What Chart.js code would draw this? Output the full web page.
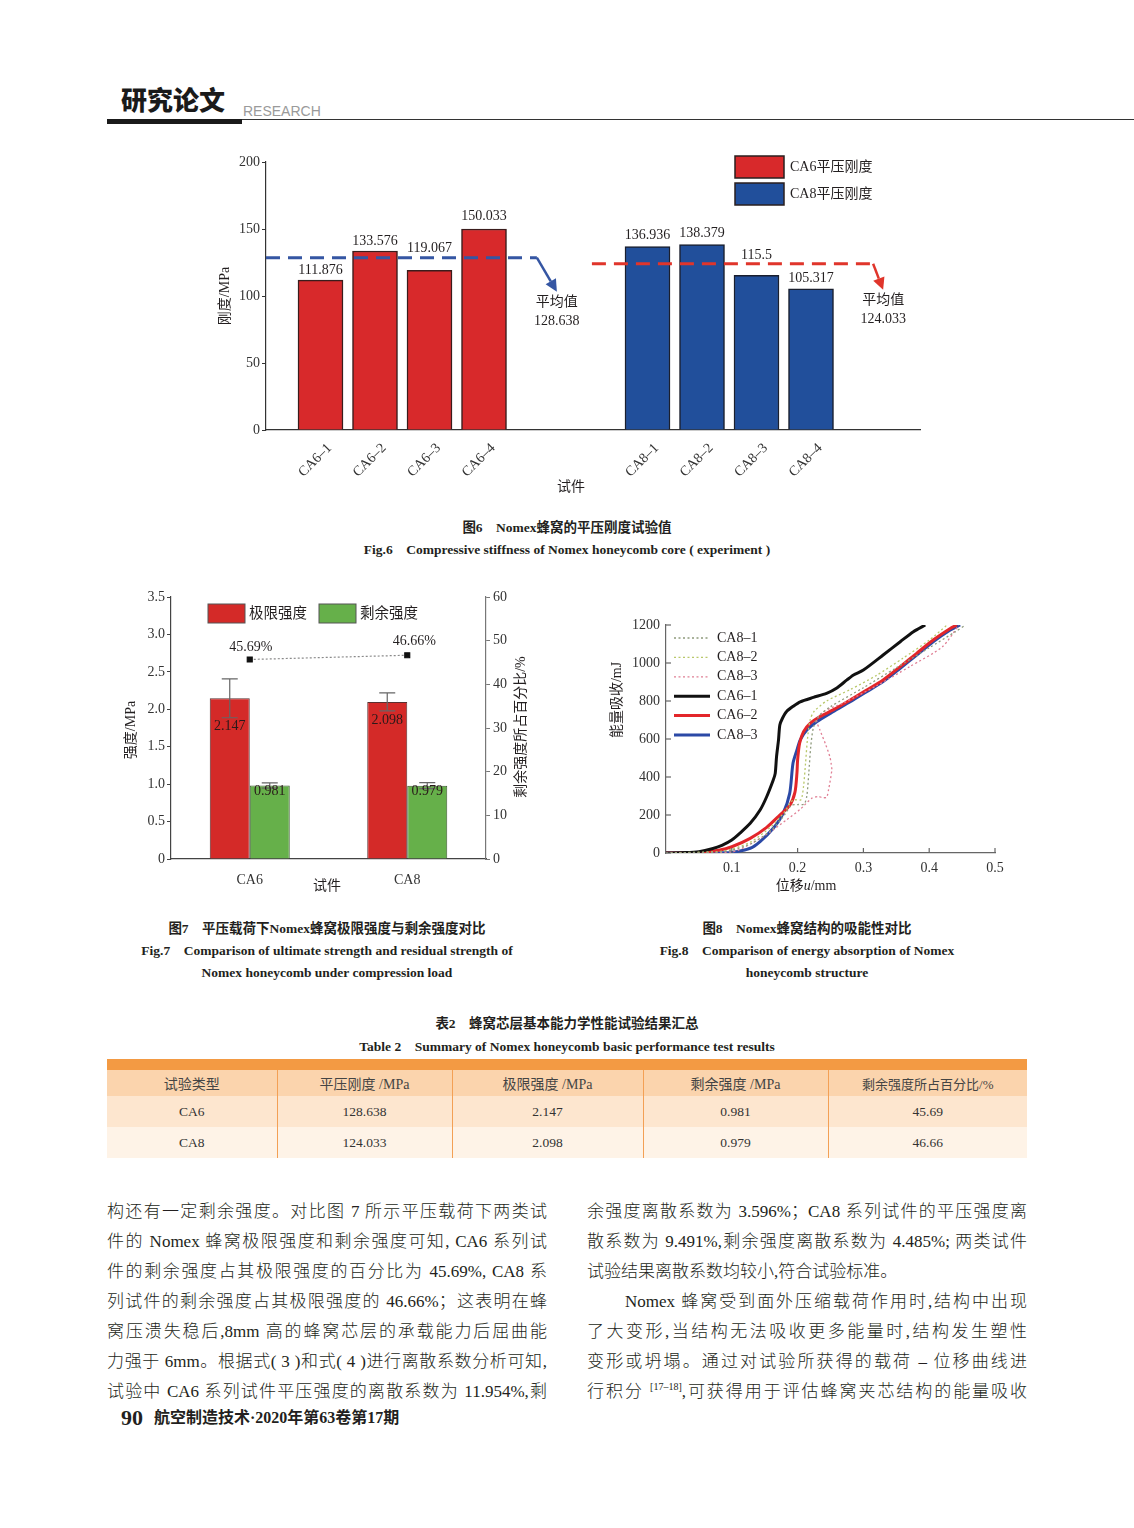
<!DOCTYPE html>
<html lang="zh-CN">
<head>
<meta charset="utf-8">
<script src="https://cdn.jsdelivr.net/npm/chart.js@4.4.1/dist/chart.umd.min.js"></script>
<style>
body{margin:0;background:#fff;}
#page{position:relative;width:1134px;height:1528px;overflow:hidden;background:#fff;font-family:'Liberation Serif','Noto Sans CJK SC',serif;color:#231f20;}
.abs{position:absolute;}
canvas{position:absolute;}
.cap{position:absolute;text-align:center;font-weight:bold;font-size:13.5px;line-height:18px;white-space:nowrap;}
.cn{font-family:'Liberation Serif','Noto Sans CJK SC',sans-serif;}
.ln{position:absolute;width:440px;height:30px;line-height:30px;font-size:17px;font-weight:300;text-align:justify;text-align-last:justify;color:#231f20;}
.ln.last{text-align-last:left;}
table{border-collapse:collapse;table-layout:fixed;}
td{text-align:center;padding:0;}
</style>
</head>
<body>
<div id="page">
  <!-- header -->
  <div class="abs" style="left:121px;top:83px;font-family:'Noto Sans CJK SC',sans-serif;font-weight:900;font-size:26px;line-height:32px;color:#1a1a1a;">研究论文</div>
  <div class="abs" style="left:243px;top:103px;font-family:'Liberation Sans',sans-serif;font-size:14px;line-height:16px;color:#9a9a9a;">RESEARCH</div>
  <div class="abs" style="left:107px;top:119px;width:135px;height:5px;background:#1a1a1a;"></div>
  <div class="abs" style="left:242px;top:119px;width:892px;height:1px;background:#333;"></div>

  <canvas id="fig6" width="740" height="365" style="left:200px;top:145px;width:740px;height:365px;"></canvas>
  <div class="cap cn" style="left:0;width:1134px;top:519px;">图6&ensp;&ensp;Nomex蜂窝的平压刚度试验值</div>
  <div class="cap" style="left:0;width:1134px;top:541px;">Fig.6&ensp;&ensp;Compressive stiffness of Nomex honeycomb core ( experiment )</div>

  <canvas id="fig7" width="430" height="315" style="left:110px;top:585px;width:430px;height:315px;"></canvas>
  <canvas id="fig8" width="420" height="290" style="left:600px;top:610px;width:420px;height:290px;"></canvas>

  <div class="cap cn" style="left:107px;width:440px;top:920px;">图7&ensp;&ensp;平压载荷下Nomex蜂窝极限强度与剩余强度对比</div>
  <div class="cap" style="left:107px;width:440px;top:942px;">Fig.7&ensp;&ensp;Comparison of ultimate strength and residual strength of</div>
  <div class="cap" style="left:107px;width:440px;top:964px;">Nomex honeycomb under compression load</div>
  <div class="cap cn" style="left:587px;width:440px;top:920px;">图8&ensp;&ensp;Nomex蜂窝结构的吸能性对比</div>
  <div class="cap" style="left:587px;width:440px;top:942px;">Fig.8&ensp;&ensp;Comparison of energy absorption of Nomex</div>
  <div class="cap" style="left:587px;width:440px;top:964px;">honeycomb structure</div>

  <div class="cap cn" style="left:0;width:1134px;top:1015px;">表2&ensp;&ensp;蜂窝芯层基本能力学性能试验结果汇总</div>
  <div class="cap" style="left:0;width:1134px;top:1038px;">Table 2&ensp;&ensp;Summary of Nomex honeycomb basic performance test results</div>

  <div class="abs" style="left:107px;top:1059px;width:920px;height:11px;background:#f39a43;"></div>
  <table class="abs" style="left:107px;top:1070px;width:920px;">
    <colgroup><col style="width:170px"><col style="width:175px"><col style="width:191px"><col style="width:185px"><col style="width:199px"></colgroup>
    <tr style="height:26px;background:#fbd4ad;color:#444;font-size:14px;">
      <td style="border-right:1.5px solid #f3a055;">试验类型</td><td style="border-right:1.5px solid #f3a055;">平压刚度 /MPa</td><td style="border-right:1.5px solid #f3a055;">极限强度 /MPa</td><td style="border-right:1.5px solid #f3a055;">剩余强度 /MPa</td><td style="font-size:13px;">剩余强度所占百分比/%</td>
    </tr>
    <tr style="height:31px;background:#fde6cf;color:#333;font-size:13.5px;">
      <td style="border-right:1.5px solid #f3a055;">CA6</td><td style="border-right:1.5px solid #f3a055;">128.638</td><td style="border-right:1.5px solid #f3a055;">2.147</td><td style="border-right:1.5px solid #f3a055;">0.981</td><td>45.69</td>
    </tr>
    <tr style="height:31px;background:#fef3e7;color:#333;font-size:13.5px;">
      <td style="border-right:1.5px solid #f3a055;">CA8</td><td style="border-right:1.5px solid #f3a055;">124.033</td><td style="border-right:1.5px solid #f3a055;">2.098</td><td style="border-right:1.5px solid #f3a055;">0.979</td><td>46.66</td>
    </tr>
  </table>

  <!-- body text left column -->
  <div class="ln" style="left:107px;top:1197px;">构还有一定剩余强度。对比图 7 所示平压载荷下两类试</div>
  <div class="ln" style="left:107px;top:1227px;">件的 Nomex 蜂窝极限强度和剩余强度可知, CA6 系列试</div>
  <div class="ln" style="left:107px;top:1257px;">件的剩余强度占其极限强度的百分比为 45.69%, CA8 系</div>
  <div class="ln" style="left:107px;top:1287px;">列试件的剩余强度占其极限强度的 46.66%；这表明在蜂</div>
  <div class="ln" style="left:107px;top:1317px;">窝压溃失稳后,8mm 高的蜂窝芯层的承载能力后屈曲能</div>
  <div class="ln" style="left:107px;top:1347px;">力强于 6mm。根据式( 3 )和式( 4 )进行离散系数分析可知,</div>
  <div class="ln" style="left:107px;top:1377px;">试验中 CA6 系列试件平压强度的离散系数为 11.954%,剩</div>
  <!-- right column -->
  <div class="ln" style="left:587px;top:1197px;">余强度离散系数为 3.596%；CA8 系列试件的平压强度离</div>
  <div class="ln" style="left:587px;top:1227px;">散系数为 9.491%,剩余强度离散系数为 4.485%; 两类试件</div>
  <div class="ln last" style="left:587px;top:1257px;">试验结果离散系数均较小,符合试验标准。</div>
  <div class="ln" style="left:625px;width:402px;top:1287px;">Nomex 蜂窝受到面外压缩载荷作用时,结构中出现</div>
  <div class="ln" style="left:587px;top:1317px;">了大变形,当结构无法吸收更多能量时,结构发生塑性</div>
  <div class="ln" style="left:587px;top:1347px;">变形或坍塌。通过对试验所获得的载荷 – 位移曲线进</div>
  <div class="ln" style="left:587px;top:1377px;">行积分 <sup style="font-size:10px;line-height:0;">[17–18]</sup>,可获得用于评估蜂窝夹芯结构的能量吸收</div>

  <!-- footer -->
  <div class="abs" style="left:121px;top:1405px;font-weight:bold;font-size:22px;line-height:26px;">90</div>
  <div class="abs" style="left:154px;top:1408px;font-weight:bold;font-size:16px;line-height:20px;">航空制造技术·2020年第63卷第17期</div>
</div>

<script>
// ---------------- data ----------------
// Fig.6
const stiffCategories6 = ['CA6–1', 'CA6–2', 'CA6–3', 'CA6–4'];
const stiffValues6 = [111.876, 133.576, 119.067, 150.033];
const stiffCategories8 = ['CA8–1', 'CA8–2', 'CA8–3', 'CA8–4'];
const stiffValues8 = [136.936, 138.379, 115.5, 105.317];
const stiffAverages = [128.638, 124.033];
const stiffTicks = [0, 50, 100, 150, 200];
const stiffSeriesNames = ['CA6平压刚度', 'CA8平压刚度'];

// Fig.7
const strengthGroups = ['CA6', 'CA8'];
const ultimateStrength = [2.147, 2.098];
const ultimateError = [0.26, 0.12];
const residualStrength = [0.981, 0.979];
const residualError = [0.035, 0.04];
const residualPercent = [45.69, 46.66];
const strengthTicks = [0, 0.5, 1.0, 1.5, 2.0, 2.5, 3.0, 3.5];
const percentTicks = [0, 10, 20, 30, 40, 50, 60];

// Fig.8 (displacement mm, energy mJ)
const ca81X = [0, 0.08, 0.1, 0.13, 0.16, 0.18, 0.19, 0.2, 0.21, 0.214, 0.217, 0.22, 0.224, 0.232, 0.25, 0.3, 0.35, 0.4, 0.44, 0.455];
const ca81Y = [0, 5, 15, 50, 120, 200, 250, 255, 258, 300, 420, 560, 660, 720, 770, 870, 975, 1080, 1165, 1200];
const ca82X = [0, 0.08, 0.1, 0.13, 0.16, 0.18, 0.19, 0.195, 0.205, 0.209, 0.212, 0.215, 0.219, 0.225, 0.244, 0.28, 0.32, 0.36, 0.4, 0.427];
const ca82Y = [0, 8, 20, 60, 140, 215, 270, 280, 280, 350, 470, 600, 700, 745, 800, 860, 935, 1025, 1120, 1200];
const ca83dX = [0, 0.1, 0.13, 0.158, 0.183, 0.204, 0.221, 0.2315, 0.237, 0.244, 0.247, 0.252, 0.251, 0.249, 0.242, 0.234, 0.229, 0.24, 0.27, 0.32, 0.37, 0.42, 0.445];
const ca83dY = [0, 5, 50, 110, 174, 230, 287, 298, 292, 293, 332, 437, 470, 507, 577, 647, 700, 745, 790, 880, 980, 1085, 1200];
const ca61X = [0, 0.03, 0.05, 0.07, 0.085, 0.1, 0.112, 0.128, 0.143, 0.153, 0.163, 0.166, 0.168, 0.171, 0.173, 0.177, 0.183, 0.194, 0.204, 0.224, 0.244, 0.259, 0.275, 0.285, 0.3, 0.33, 0.356, 0.376, 0.394];
const ca61Y = [0, 2, 7, 22, 40, 68, 103, 156, 226, 296, 384, 419, 507, 595, 674, 709, 744, 774, 796, 819, 840, 867, 911, 937, 963, 1042, 1112, 1165, 1200];
const ca62X = [0, 0.05, 0.08, 0.1, 0.128, 0.153, 0.173, 0.188, 0.196, 0.199, 0.2, 0.203, 0.209, 0.219, 0.234, 0.254, 0.28, 0.305, 0.33, 0.356, 0.381, 0.406, 0.432, 0.442];
const ca62Y = [0, 3, 15, 33, 77, 135, 200, 250, 320, 420, 489, 577, 639, 682, 718, 753, 805, 858, 911, 981, 1051, 1121, 1182, 1200];
const ca83X = [0, 0.08, 0.1, 0.128, 0.143, 0.163, 0.178, 0.188, 0.193, 0.199, 0.204, 0.214, 0.229, 0.254, 0.28, 0.305, 0.33, 0.356, 0.381, 0.406, 0.432, 0.447];
const ca83Y = [0, 1, 3, 25, 60, 130, 209, 314, 472, 542, 595, 647, 691, 744, 796, 849, 902, 972, 1042, 1112, 1174, 1200];
const energyXTicks = [0.1, 0.2, 0.3, 0.4, 0.5];
const energyYTicks = [0, 200, 400, 600, 800, 1000, 1200];

// ---------------- shared ----------------
const FAM = "'Liberation Serif','Noto Sans CJK SC',serif";
Chart.defaults.font.family = FAM;
Chart.defaults.font.size = 14;
Chart.defaults.color = '#231f20';
Chart.defaults.animation = false;

function font(sz, style) { return (style ? style + ' ' : '') + sz + 'px ' + FAM; }
function rotText(ctx, txt, x, y) {
  ctx.save(); ctx.translate(x, y); ctx.rotate(-Math.PI / 2);
  ctx.textAlign = 'center'; ctx.textBaseline = 'middle'; ctx.fillText(txt, 0, 0); ctx.restore();
}

// ---------------- Fig.6 ----------------
(function () {
  const labels = ['', ...stiffCategories6, '', '', ...stiffCategories8, '', ''];
  const d6 = labels.map(() => null), d8 = labels.map(() => null);
  const start6 = 1, start8 = 1 + stiffCategories6.length + 2;
  stiffValues6.forEach((v, i) => d6[start6 + i] = v);
  stiffValues8.forEach((v, i) => d8[start8 + i] = v);
  const lift = [[10, 10, 22, 13], [11, 11, 20, 11]];
  const colors = ['#d8292b', '#214f9b'];
  const avgStyle = [
    { color: '#3556a3', from: 0, to: 4.97, dx: 20, dy: 34 },
    { color: '#e0352b', from: 5.98, to: 11.14, dx: 10, dy: 26 }
  ];

  const decor = {
    id: 'fig6decor',
    afterDatasetsDraw(chart) {
      const { ctx, scales: { x, y } } = chart;
      ctx.save();
      // value labels
      ctx.font = font(14); ctx.fillStyle = '#231f20'; ctx.textAlign = 'center'; ctx.textBaseline = 'middle';
      chart.data.datasets.forEach((ds, di) => {
        const meta = chart.getDatasetMeta(di);
        let k = 0;
        ds.data.forEach((v, i) => {
          if (v == null) return;
          ctx.fillText(String(v), meta.data[i].x, y.getPixelForValue(v) - lift[di][k]);
          k++;
        });
      });
      // average dashed lines with arrows
      stiffAverages.forEach((avg, i) => {
        const s = avgStyle[i];
        const yy = y.getPixelForValue(avg);
        const x1 = x.getPixelForValue(s.from), x2 = x.getPixelForValue(s.to);
        ctx.strokeStyle = s.color; ctx.fillStyle = s.color; ctx.lineWidth = 3;
        ctx.setLineDash([14, 8]);
        ctx.beginPath(); ctx.moveTo(x1, yy); ctx.lineTo(x2, yy); ctx.stroke();
        ctx.setLineDash([]);
        const tx = x2 + s.dx, ty = yy + s.dy;
        const ang = Math.atan2(s.dy, s.dx);
        const hl = 12, hw = 6;
        const bx = tx - hl * Math.cos(ang), by = ty - hl * Math.sin(ang);
        ctx.lineWidth = 2.5;
        ctx.beginPath(); ctx.moveTo(x2, yy); ctx.lineTo(bx, by); ctx.stroke();
        ctx.beginPath();
        ctx.moveTo(tx, ty);
        ctx.lineTo(bx + hw * Math.sin(ang), by - hw * Math.cos(ang));
        ctx.lineTo(bx - hw * Math.sin(ang), by + hw * Math.cos(ang));
        ctx.closePath(); ctx.fill();
        ctx.fillStyle = '#231f20'; ctx.font = font(14); ctx.textAlign = 'center'; ctx.textBaseline = 'middle';
        ctx.fillText('平均值', tx, ty + 11);
        ctx.fillText(String(avg), tx, ty + 30);
      });
      // legend
      stiffSeriesNames.forEach((name, i) => {
        const bx = 535, by = 11 + i * 27;
        ctx.fillStyle = colors[i]; ctx.fillRect(bx, by, 49, 22);
        ctx.strokeStyle = '#2a1f1f'; ctx.lineWidth = 1.5; ctx.strokeRect(bx, by, 49, 22);
        ctx.fillStyle = '#231f20'; ctx.font = font(14); ctx.textAlign = 'left'; ctx.textBaseline = 'middle';
        ctx.fillText(name, bx + 55, by + 11);
      });
      // axis titles
      ctx.fillStyle = '#231f20'; ctx.font = font(14);
      rotText(ctx, '刚度/MPa', 25, 151);
      ctx.textAlign = 'center'; ctx.textBaseline = 'middle';
      ctx.fillText('试件', 371, 342);
      ctx.restore();
    }
  };

  new Chart(document.getElementById('fig6'), {
    type: 'bar',
    data: {
      labels,
      datasets: [
        { label: stiffSeriesNames[0], data: d6, backgroundColor: colors[0], borderColor: '#3a1c1c', borderWidth: 1.5, barThickness: 45, grouped: false },
        { label: stiffSeriesNames[1], data: d8, backgroundColor: colors[1], borderColor: '#1a1f2e', borderWidth: 1.5, barThickness: 45, grouped: false }
      ]
    },
    options: {
      responsive: false, animation: false,
      layout: { padding: { top: 17, right: 20, left: 0, bottom: 0 } },
      plugins: { legend: { display: false }, tooltip: { enabled: false } },
      scales: {
        x: {
          offset: false,
          grid: { display: false },
          border: { display: true, color: '#333', width: 1.2 },
          ticks: { autoSkip: false, maxRotation: 45, minRotation: 45, labelOffset: 9, padding: 2, font: { size: 14 }, color: '#333' },
          afterFit: s => { s.height = 80; }
        },
        y: {
          min: 0, max: 200,
          afterBuildTicks: s => { s.ticks = stiffTicks.map(v => ({ value: v })); },
          grid: { drawOnChartArea: false, drawTicks: true, tickLength: 4, color: '#333' },
          border: { color: '#333', width: 1.2 },
          ticks: { padding: 2, font: { size: 14 }, color: '#333' },
          afterFit: s => { s.width = 66; }
        }
      }
    },
    plugins: [decor]
  });
})();

// ---------------- Fig.7 ----------------
(function () {
  const barColors = ['#d42a28', '#66b04a'];
  const errs = [ultimateError, residualError];
  const labelGap = [9, 3];
  const pctLift = [12, 14], pctShift = [1, 7];
  const decor = {
    id: 'fig7decor',
    afterDatasetsDraw(chart) {
      const { ctx, scales: { y } } = chart;
      ctx.save();
      // error bars + value labels
      [0, 1].forEach(di => {
        const meta = chart.getDatasetMeta(di);
        const vals = chart.data.datasets[di].data;
        vals.forEach((v, i) => {
          const cx = meta.data[i].x;
          const yt = y.getPixelForValue(v + errs[di][i]);
          const yb = y.getPixelForValue(v - errs[di][i]);
          ctx.strokeStyle = '#666'; ctx.lineWidth = 1.2;
          ctx.beginPath();
          ctx.moveTo(cx, yt); ctx.lineTo(cx, yb);
          ctx.moveTo(cx - 8, yt); ctx.lineTo(cx + 8, yt);
          ctx.moveTo(cx - 8, yb); ctx.lineTo(cx + 8, yb);
          ctx.stroke();
          ctx.fillStyle = '#2a1a1a'; ctx.font = font(14); ctx.textAlign = 'center'; ctx.textBaseline = 'middle';
          ctx.fillText(v.toFixed(3), cx, yb + labelGap[di]);
        });
      });
      // percentage labels
      const pm = chart.getDatasetMeta(2);
      residualPercent.forEach((p, i) => {
        ctx.fillStyle = '#231f20'; ctx.font = font(14); ctx.textAlign = 'center'; ctx.textBaseline = 'middle';
        ctx.fillText(p.toFixed(2) + '%', pm.data[i].x + pctShift[i], pm.data[i].y - pctLift[i]);
      });
      // legend
      [0, 1].forEach(di => {
        const bx = 98 + di * 111, by = 19;
        ctx.fillStyle = barColors[di]; ctx.fillRect(bx, by, 37, 19);
        ctx.strokeStyle = '#555'; ctx.lineWidth = 1; ctx.strokeRect(bx, by, 37, 19);
        ctx.fillStyle = '#231f20'; ctx.font = font(14.5); ctx.textAlign = 'left'; ctx.textBaseline = 'middle';
        ctx.fillText(chart.data.datasets[di].label, bx + 41, by + 10);
      });
      // axis titles
      ctx.fillStyle = '#231f20'; ctx.font = font(14);
      rotText(ctx, '强度/MPa', 21, 145);
      rotText(ctx, '剩余强度所占百分比/%', 411, 142);
      ctx.textAlign = 'center'; ctx.textBaseline = 'middle';
      ctx.fillText('试件', 217, 301);
      ctx.restore();
    }
  };
  new Chart(document.getElementById('fig7'), {
    type: 'bar',
    data: {
      labels: strengthGroups,
      datasets: [
        { type: 'bar', label: '极限强度', data: ultimateStrength, backgroundColor: barColors[0], borderColor: '#5a3030', borderWidth: 1, yAxisID: 'y', categoryPercentage: 0.508, barPercentage: 1, order: 2 },
        { type: 'bar', label: '剩余强度', data: residualStrength, backgroundColor: barColors[1], borderColor: '#3d5a30', borderWidth: 1, yAxisID: 'y', categoryPercentage: 0.508, barPercentage: 1, order: 2 },
        { type: 'line', label: '剩余强度所占百分比', data: residualPercent, yAxisID: 'y1', borderColor: '#8a8a8a', borderWidth: 1.2, borderDash: [2, 2], pointStyle: 'rect', pointRadius: 3.5, pointBackgroundColor: '#111', pointBorderColor: '#111', order: 1 }
      ]
    },
    options: {
      responsive: false, animation: false,
      layout: { padding: { top: 12, right: 0, left: 0, bottom: 0 } },
      plugins: { legend: { display: false }, tooltip: { enabled: false } },
      scales: {
        x: {
          grid: { display: false },
          border: { display: true, color: '#444', width: 1.2 },
          ticks: { padding: 5, font: { size: 14 }, color: '#333' },
          afterFit: s => { s.height = 41; }
        },
        y: {
          position: 'left', min: 0, max: 3.5,
          afterBuildTicks: s => { s.ticks = strengthTicks.map(v => ({ value: v })); },
          grid: { drawOnChartArea: false, drawTicks: true, tickLength: 4, color: '#444' },
          border: { color: '#444', width: 1.2 },
          ticks: { padding: 2, font: { size: 14 }, color: '#333', callback: v => v === 0 ? '0' : v.toFixed(1) },
          afterFit: s => { s.width = 61; }
        },
        y1: {
          position: 'right', min: 0, max: 60,
          afterBuildTicks: s => { s.ticks = percentTicks.map(v => ({ value: v })); },
          grid: { drawOnChartArea: false, drawTicks: true, tickLength: 4, color: '#777' },
          border: { color: '#777', width: 1.2 },
          ticks: { padding: 3, font: { size: 14 }, color: '#333' },
          afterFit: s => { s.width = 54; }
        }
      }
    },
    plugins: [decor]
  });
})();

// ---------------- Fig.8 ----------------
(function () {
  const series = [
    { label: 'CA8–1', xs: ca81X, ys: ca81Y, color: '#8e9a7c', width: 1.3, dash: [2, 2.5] },
    { label: 'CA8–2', xs: ca82X, ys: ca82Y, color: '#b9c86a', width: 1.3, dash: [2, 2.5] },
    { label: 'CA8–3', xs: ca83dX, ys: ca83dY, color: '#e07f94', width: 1.3, dash: [2, 2.5] },
    { label: 'CA6–1', xs: ca61X, ys: ca61Y, color: '#111111', width: 3, dash: [] },
    { label: 'CA6–2', xs: ca62X, ys: ca62Y, color: '#e3262a', width: 3, dash: [] },
    { label: 'CA8–3', xs: ca83X, ys: ca83Y, color: '#2b49a6', width: 3, dash: [] }
  ];
  const datasets = series.map(s => ({
    label: s.label,
    data: s.xs.map((x, i) => ({ x, y: s.ys[i] })),
    borderColor: s.color, borderWidth: s.width, borderDash: s.dash,
    pointRadius: 0, tension: 0.25, fill: false
  }));
  const decor = {
    id: 'fig8decor',
    afterDraw(chart) {
      const { ctx, scales: { x, y }, chartArea: ca } = chart;
      ctx.save();
      // inner tick marks
      ctx.strokeStyle = '#666'; ctx.lineWidth = 1.2;
      energyXTicks.forEach(v => { const px = x.getPixelForValue(v); ctx.beginPath(); ctx.moveTo(px, ca.bottom); ctx.lineTo(px, ca.bottom - 5); ctx.stroke(); });
      energyYTicks.forEach(v => { const py = y.getPixelForValue(v); ctx.beginPath(); ctx.moveTo(ca.left, py); ctx.lineTo(ca.left + 5, py); ctx.stroke(); });
      // legend
      series.forEach((s, i) => {
        const ly = 28 + i * 19.4;
        ctx.strokeStyle = s.color; ctx.lineWidth = s.width; ctx.setLineDash(s.dash);
        ctx.beginPath(); ctx.moveTo(74, ly); ctx.lineTo(110, ly); ctx.stroke();
        ctx.setLineDash([]);
        ctx.fillStyle = '#231f20'; ctx.font = font(14); ctx.textAlign = 'left'; ctx.textBaseline = 'middle';
        ctx.fillText(s.label, 117, ly);
      });
      // axis titles
      ctx.fillStyle = '#231f20'; ctx.font = font(14);
      rotText(ctx, '能量吸收/mJ', 17, 90);
      ctx.textBaseline = 'middle'; ctx.textAlign = 'left';
      const p1 = '位移', p2 = 'u', p3 = '/mm';
      ctx.font = font(14); const w1 = ctx.measureText(p1).width, w3 = ctx.measureText(p3).width;
      ctx.font = font(14, 'italic'); const w2 = ctx.measureText(p2).width;
      let sx = 206 - (w1 + w2 + w3) / 2;
      ctx.font = font(14); ctx.fillText(p1, sx, 276); sx += w1;
      ctx.font = font(14, 'italic'); ctx.fillText(p2, sx, 276); sx += w2;
      ctx.font = font(14); ctx.fillText(p3, sx, 276);
      ctx.restore();
    }
  };
  new Chart(document.getElementById('fig8'), {
    type: 'line',
    data: { datasets },
    options: {
      responsive: false, animation: false,
      layout: { padding: { top: 15, right: 25, left: 0, bottom: 0 } },
      plugins: { legend: { display: false }, tooltip: { enabled: false } },
      scales: {
        x: {
          type: 'linear', min: 0, max: 0.5,
          afterBuildTicks: s => { s.ticks = energyXTicks.map(v => ({ value: v })); },
          grid: { drawOnChartArea: false, drawTicks: false },
          border: { display: true, color: '#666', width: 1.2 },
          ticks: { padding: 7, font: { size: 14 }, color: '#333', callback: v => String(v) },
          afterFit: s => { s.height = 47; }
        },
        y: {
          min: 0, max: 1200,
          afterBuildTicks: s => { s.ticks = energyYTicks.map(v => ({ value: v })); },
          grid: { drawOnChartArea: false, drawTicks: false },
          border: { display: true, color: '#666', width: 1.2 },
          ticks: { padding: 6, font: { size: 14 }, color: '#333', callback: v => String(v) },
          afterFit: s => { s.width = 66; }
        }
      }
    },
    plugins: [decor]
  });
})();
</script>
</body>
</html>
